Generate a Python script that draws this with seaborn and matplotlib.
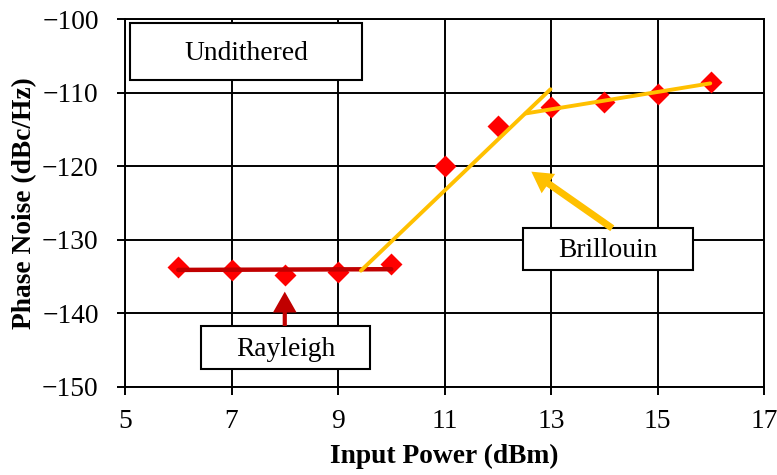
import matplotlib
matplotlib.use("Agg")
import matplotlib.pyplot as plt
import seaborn as sns
import pandas as pd
from matplotlib.patches import Rectangle

# ---- data ----
power_dbm = [6, 7, 8, 9, 10, 11, 12, 13, 14, 15, 16]
phase_noise = [-133.7, -134.1, -134.8, -134.4, -133.3, -120.0, -114.5, -111.9, -111.3, -110.2, -108.5]

rayleigh_fit_x = [6.0, 10.0]
rayleigh_fit_y = [-134.1, -134.0]
brillouin_fit1_x = [9.43, 12.99]
brillouin_fit1_y = [-134.2, -109.5]
brillouin_fit2_x = [12.52, 15.99]
brillouin_fit2_y = [-112.8, -108.7]

x_ticks = [5, 7, 9, 11, 13, 15, 17]
y_ticks = [-150, -140, -130, -120, -110, -100]

# ---- style ----
sns.set_style("ticks")
plt.rcParams["font.family"] = ["Liberation Serif", "DejaVu Serif"]
plt.rcParams["axes.unicode_minus"] = True
plt.rcParams["text.color"] = "black"
plt.rcParams["axes.labelcolor"] = "black"
plt.rcParams["xtick.color"] = "black"
plt.rcParams["ytick.color"] = "black"

FS = 19.8
RED = "#FF0000"
DARKRED = "#C00000"
GOLD = "#FFC000"

fig = plt.figure(figsize=(7.77, 4.75), dpi=100)
ax = fig.add_axes([0.1609, 0.1859, 0.8224, 0.7731])

df = pd.DataFrame({"power": power_dbm, "noise": phase_noise})
sns.scatterplot(data=df, x="power", y="noise", marker="D", s=125, color=RED,
                linewidth=0, ax=ax, zorder=3)

sns.lineplot(x=rayleigh_fit_x, y=rayleigh_fit_y, color=DARKRED, linewidth=3.2, ax=ax, zorder=4)
sns.lineplot(x=brillouin_fit1_x, y=brillouin_fit1_y, color=GOLD, linewidth=2.8, ax=ax, zorder=4)
sns.lineplot(x=brillouin_fit2_x, y=brillouin_fit2_y, color=GOLD, linewidth=2.8, ax=ax, zorder=4)

ax.set_xlim(5, 17)
ax.set_ylim(-150, -100)
ax.set_xticks(x_ticks)
ax.set_yticks(y_ticks)
ax.grid(True, color="black", linewidth=1.4, zorder=0)
ax.set_axisbelow(True)
for s in ax.spines.values():
    s.set_color("black")
    s.set_linewidth(1.4)
ax.tick_params(axis="both", direction="out", length=6, width=1.4, colors="black",
               labelcolor="black", labelsize=FS)
ax.tick_params(axis="y", pad=13)
ax.tick_params(axis="x", pad=10)

ax.set_xlabel("Input Power (dBm)", fontsize=FS, fontweight="bold", color="black")
ax.set_ylabel("Phase Noise (dBc/Hz)", fontsize=FS, fontweight="bold", color="black")
ax.xaxis.set_label_coords(0.5, -0.155)
ax.yaxis.set_label_coords(-0.137, 0.5)

# ---- annotation boxes ----
def box(x0, x1, y0, y1, text):
    r = Rectangle((x0, y0), x1 - x0, y1 - y0, facecolor="white", edgecolor="black",
                  linewidth=1.5, zorder=5)
    ax.add_patch(r)
    ax.text((x0 + x1) / 2, (y0 + y1) / 2 - 0.25, text, ha="center", va="center",
            fontsize=FS, color="black", zorder=6)

box(5.094, 9.457, -108.24, -100.52, "Undithered")
box(6.425, 9.607, -147.59, -141.73, "Rayleigh")
box(12.48, 15.67, -134.11, -128.43, "Brillouin")

ax.annotate("", xy=(8.0, -137.06), xytext=(8.0, -141.73),
            arrowprops=dict(width=3.0, headwidth=17, headlength=15, shrink=0,
                            facecolor=DARKRED, edgecolor="none"), zorder=5)
ax.annotate("", xy=(12.63, -120.72), xytext=(14.15, -128.43),
            arrowprops=dict(width=5.0, headwidth=17, headlength=15, shrink=0,
                            facecolor=GOLD, edgecolor="none"), zorder=5)

fig.savefig("out.png", dpi=100)
